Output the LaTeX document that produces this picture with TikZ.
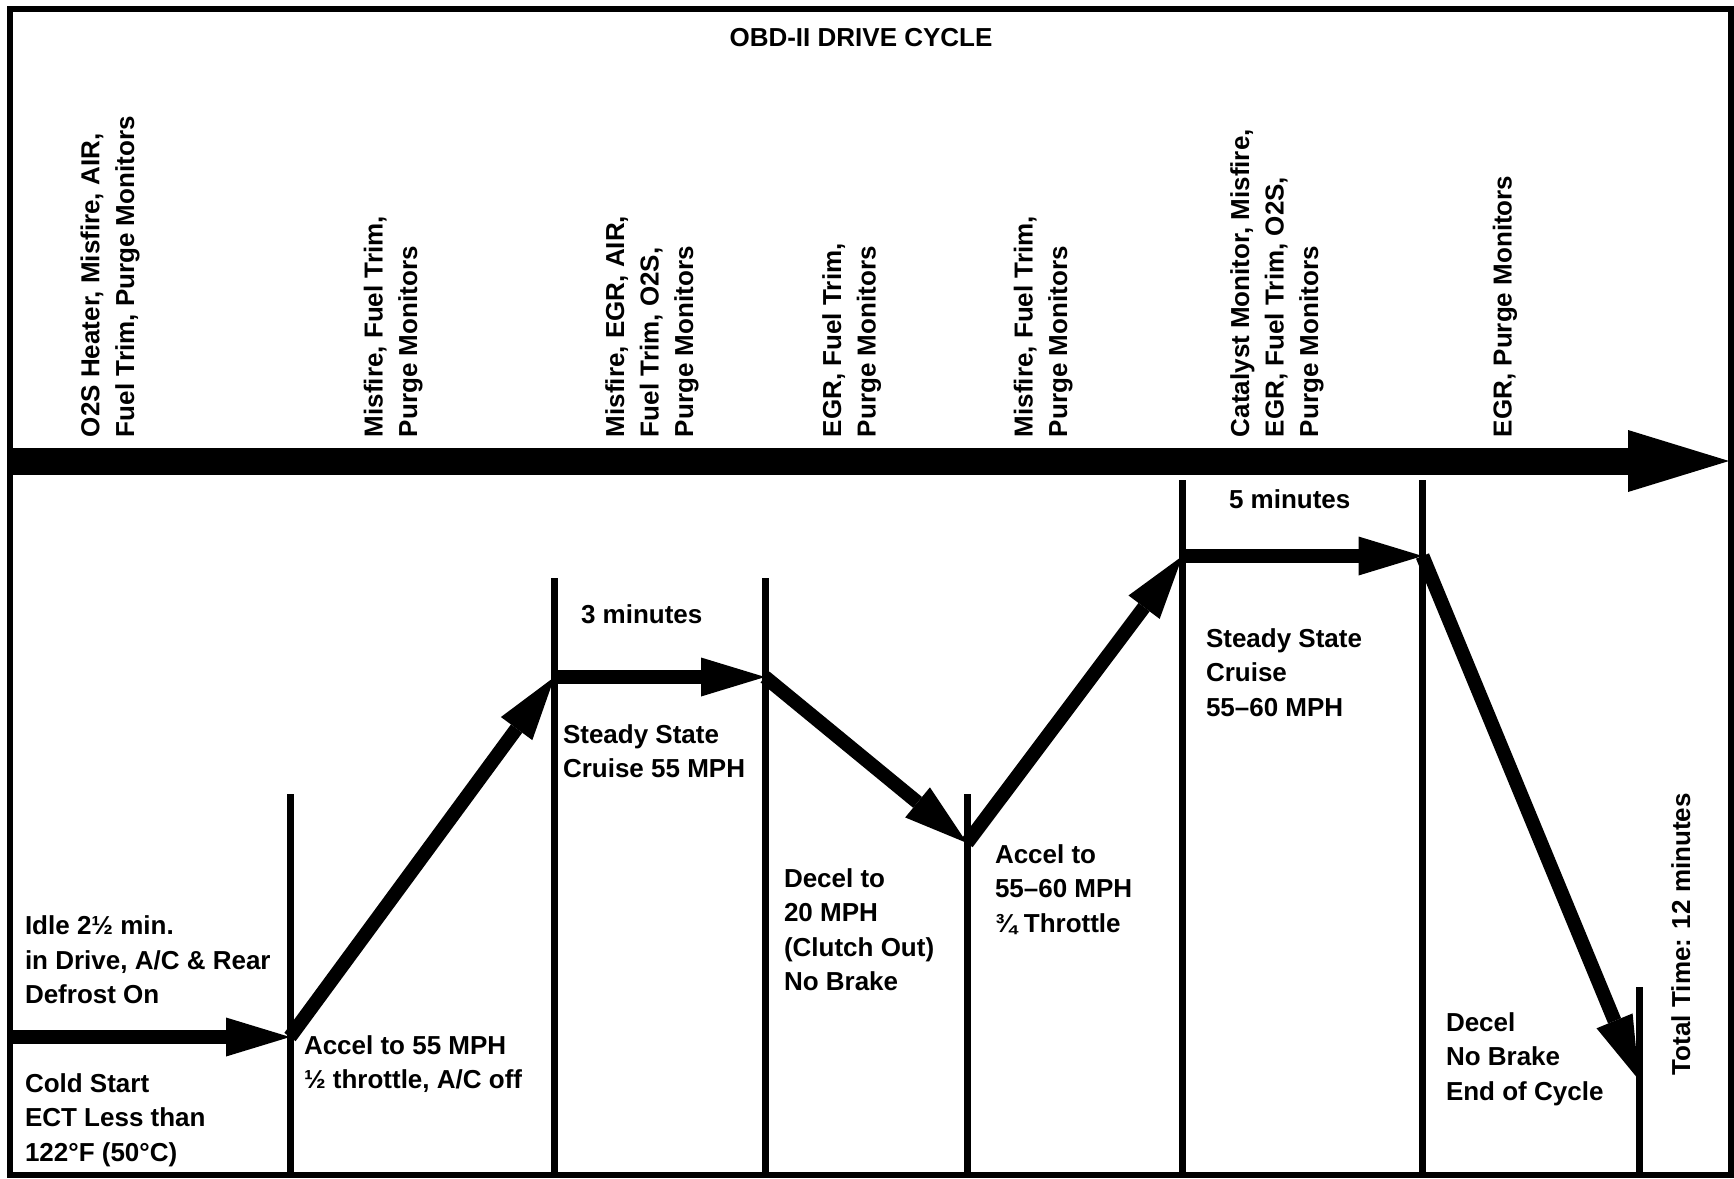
\documentclass[tikz,border=0pt]{standalone}
\usepackage{fontspec}
\setmainfont{Liberation Sans}
\usetikzlibrary{arrows.meta}
\newcommand\FLstrut{\rule{0pt}{25pt}}
\begin{document}
\begin{tikzpicture}[x=1pt,y=-1pt,
  every node/.style={inner sep=0pt, outer sep=0pt, font=\fontsize{26}{34.6}\selectfont\bfseries, align=left},
  lbl/.style={anchor=north west},
  vlbl/.style={anchor=north west, rotate=90},
  frame/.style={line width=6pt},
  divider/.style={line width=7pt},
  prof/.style={line width=14pt, -{Triangle[length=64pt,width=39pt,line width=0pt]}},
  timeline/.style={line width=27pt, -{Triangle[length=101pt,width=62pt,line width=0pt]}}
]
\useasboundingbox (0,0) rectangle (1734,1178);
\fill[white] (0,0) rectangle (1734,1178);

% frame
\coordinate (fa) at (9.5,8.5);
\coordinate (fb) at (1731,1175);
\draw[frame] (fa) rectangle (fb);

% title
\node[anchor=base] (title) at (861,46.7) {OBD-II DRIVE CYCLE};

% monitor labels (rotated)
\node[vlbl] (mon1) at (74.4,437) {\FLstrut O2S Heater, Misfire, AIR,\\Fuel Trim, Purge Monitors};
\node[vlbl] (mon2) at (357.6,437) {\FLstrut Misfire, Fuel Trim,\\Purge Monitors};
\node[vlbl] (mon3) at (599,437) {\FLstrut Misfire, EGR, AIR,\\Fuel Trim, O2S,\\Purge Monitors};
\node[vlbl] (mon4) at (816,437) {\FLstrut EGR, Fuel Trim,\\Purge Monitors};
\node[vlbl] (mon5) at (1007.5,437) {\FLstrut Misfire, Fuel Trim,\\Purge Monitors};
\node[vlbl] (mon6) at (1224,437) {\FLstrut Catalyst Monitor, Misfire,\\EGR, Fuel Trim, O2S,\\Purge Monitors};
\node[vlbl] (mon7) at (1486.6,437) {\FLstrut EGR, Purge Monitors};

% timeline
\coordinate (t0) at (7,461);
\coordinate (t1) at (1729,461);
\draw[timeline] (t0) -- (t1);

% dividers
\coordinate (d1t) at (290,794);   \coordinate (d1b) at (290,1175);
\coordinate (d2t) at (554.5,578); \coordinate (d2b) at (554.5,1175);
\coordinate (d3t) at (765,578);   \coordinate (d3b) at (765,1175);
\coordinate (d4t) at (967,794);   \coordinate (d4b) at (967,1175);
\coordinate (d5t) at (1182.5,480);\coordinate (d5b) at (1182.5,1175);
\coordinate (d6t) at (1422.5,480);\coordinate (d6b) at (1422.5,1175);
\coordinate (d7t) at (1639,987);  \coordinate (d7b) at (1639,1175);
\foreach \i in {1,...,7} {\draw[divider] (d\i t) -- (d\i b);}

% speed profile
\coordinate (p0) at (7,1037);
\coordinate (p1) at (290,1037);
\coordinate (p2) at (554.5,677);
\coordinate (p3) at (765,677);
\coordinate (p4) at (967,843);
\coordinate (p5) at (1182.5,556);
\coordinate (p6) at (1422.5,556);
\coordinate (p7) at (1639,1080);
\draw[prof] (p0) -- (p1);
\draw[prof] (p1) -- (p2);
\draw[prof] (p2) -- (p3);
\draw[prof] (p3) -- (p4);
\draw[prof] (p4) -- (p5);
\draw[prof] (p5) -- (p6);
\draw[prof] (p6) -- (p7);

% phase labels
\node[lbl] (idle) at (25,909.5) {\FLstrut Idle 2½ min.\\in Drive, A/C \& Rear\\Defrost On};
\node[lbl] (cold) at (25,1067) {\FLstrut Cold Start\\ECT Less than\\122°F (50°C)};
\node[lbl] (acc1) at (304,1029) {\FLstrut Accel to 55 MPH\\½ throttle, A/C off};
\node[lbl] (min3) at (581,598) {\FLstrut 3 minutes};
\node[lbl] (cru1) at (563,718) {\FLstrut Steady State\\Cruise 55 MPH};
\node[lbl] (dec1) at (784,862) {\FLstrut Decel to\\20 MPH\\(Clutch Out)\\No Brake};
\node[lbl] (acc2) at (995,838) {\FLstrut Accel to\\55–60 MPH\\¾ Throttle};
\node[lbl] (min5) at (1229,483) {\FLstrut 5 minutes};
\node[lbl] (cru2) at (1206,622) {\FLstrut Steady State\\Cruise\\55–60 MPH};
\node[lbl] (dec2) at (1446,1006) {\FLstrut Decel\\No Brake\\End of Cycle};
\node[vlbl] (total) at (1665,1075) {\FLstrut Total Time: 12 minutes};
\end{tikzpicture}
\end{document}
